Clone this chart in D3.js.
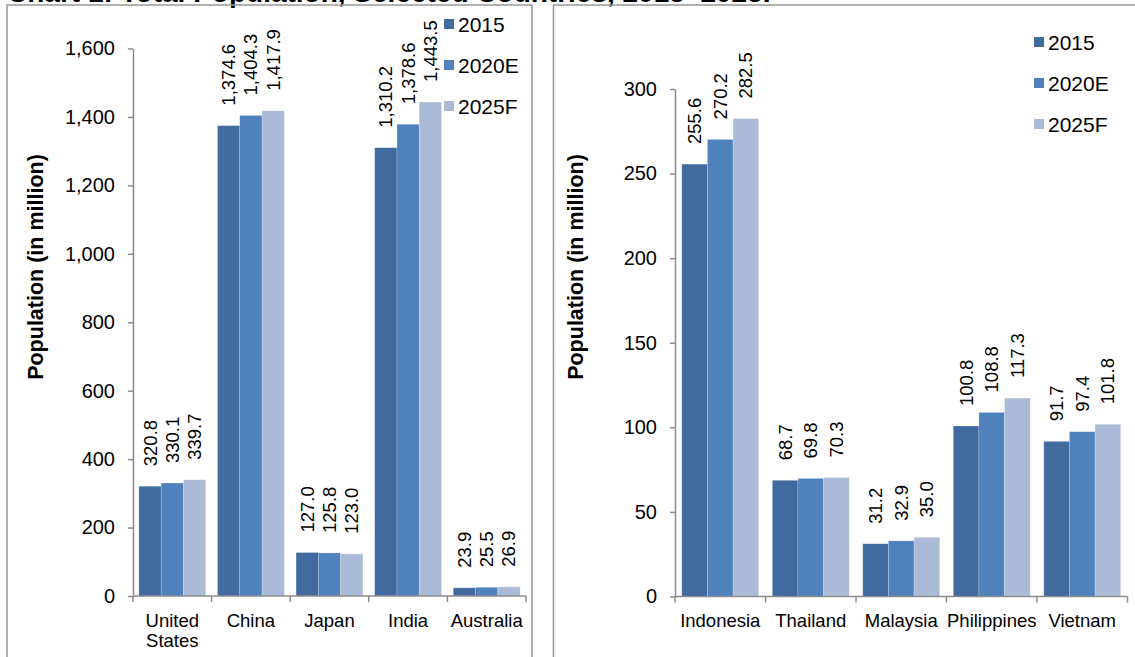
<!DOCTYPE html>
<html>
<head>
<meta charset="utf-8">
<script src="https://cdn.jsdelivr.net/npm/d3@7"></script>
<style>
  html, body { margin: 0; padding: 0; background: #ffffff; }
  svg { display: block; font-family: "Liberation Sans", Arial, sans-serif; }
</style>
</head>
<body>
<svg id="chart" width="1135" height="657"></svg>
<script>
// Series shared by both panels
const seriesNames = ["2015", "2020E", "2025F"];
const seriesColors = ["#416A9F", "#4F81BD", "#AABAD7"];

// Left panel: large economies
const leftCategories = ["United States", "China", "Japan", "India", "Australia"];
const left2015  = [320.8, 1374.6, 127.0, 1310.2, 23.9];
const left2020E = [330.1, 1404.3, 125.8, 1378.6, 25.5];
const left2025F = [339.7, 1417.9, 123.0, 1443.5, 26.9];
const leftTicks = [0, 200, 400, 600, 800, 1000, 1200, 1400, 1600];

// Right panel: Southeast Asia
const rightCategories = ["Indonesia", "Thailand", "Malaysia", "Philippines", "Vietnam"];
const right2015  = [255.6, 68.7, 31.2, 100.8, 91.7];
const right2020E = [270.2, 69.8, 32.9, 108.8, 97.4];
const right2025F = [282.5, 70.3, 35.0, 117.3, 101.8];
const rightTicks = [0, 50, 100, 150, 200, 250, 300];

const titleText = "Chart 1: Total Population, Selected Countries, 2015\u20132025F";
const yTitle = "Population (in million)";

const svg = d3.select("#chart");
const axisColor = "#8C8C8C";
const catFont = 18.5;
const tickFont = 20;
const valueFont = 18.5;
const legendFont = 21;

// Heading (runs off the top edge of the page)
svg.append("text")
  .attr("x", 7).attr("y", 2)
  .attr("font-size", 28).attr("font-weight", "bold").attr("fill", "#000")
  .text(titleText);

function drawPanel(cfg) {
  const g = svg.append("g");

  // Panel frame
  g.append("rect")
    .attr("x", cfg.frame[0]).attr("y", cfg.frame[1])
    .attr("width", cfg.frame[2]).attr("height", cfg.frame[3])
    .attr("fill", "none").attr("stroke", "#999").attr("stroke-width", 1.5);

  const y = d3.scaleLinear().domain(cfg.domain).range([cfg.y0, cfg.yTop]);
  const x = d3.scaleBand().domain(cfg.categories).range([cfg.x0, cfg.x1]).padding(0);
  const bw = x.bandwidth();
  const pad = bw * 0.075;
  const xs = d3.scaleBand().domain(seriesNames).range([pad, bw - pad]).padding(0);

  const rows = cfg.categories.map((c, i) => ({
    cat: c,
    vals: cfg.series.map((s, k) => ({ name: seriesNames[k], v: s[i], color: seriesColors[k] }))
  }));

  // Bars
  const grp = g.selectAll("g.cat").data(rows).join("g")
    .attr("class", "cat")
    .attr("transform", d => `translate(${x(d.cat)},0)`);

  grp.selectAll("rect").data(d => d.vals).join("rect")
    .attr("x", d => xs(d.name))
    .attr("y", d => y(d.v))
    .attr("width", xs.bandwidth())
    .attr("height", d => y(0) - y(d.v))
    .attr("fill", d => d.color)
    .attr("stroke", "#ffffff").attr("stroke-opacity", 0.35).attr("stroke-width", 0.6);

  // Value labels, rotated, above each bar
  grp.selectAll("text.val").data(d => d.vals).join("text")
    .attr("class", "val")
    .attr("transform", d => `translate(${xs(d.name) + xs.bandwidth() / 2},${y(d.v) - 20}) rotate(-90)`)
    .attr("dy", "0.35em")
    .attr("text-anchor", "start")
    .attr("font-size", valueFont).attr("fill", "#000")
    .text(d => d3.format(",.1f")(d.v));

  // Y axis
  const yAxis = g.append("g")
    .attr("transform", `translate(${cfg.x0},0)`)
    .call(d3.axisLeft(y).tickValues(cfg.ticks).tickFormat(d3.format(",")).tickSize(5).tickSizeOuter(0));
  yAxis.select(".domain").attr("stroke", axisColor).attr("stroke-width", 1.5);
  yAxis.selectAll(".tick line").attr("stroke", axisColor).attr("stroke-width", 1.5);
  yAxis.selectAll(".tick text")
    .attr("x", -18).attr("font-size", tickFont).attr("fill", "#000")
    .attr("font-family", "Liberation Sans, Arial, sans-serif");

  // X axis line and category separators
  g.append("line")
    .attr("x1", cfg.x0).attr("x2", cfg.x1)
    .attr("y1", y(0)).attr("y2", y(0))
    .attr("stroke", axisColor).attr("stroke-width", 1.5);
  const bounds = cfg.categories.map(c => x(c)).concat([cfg.x1]);
  g.selectAll("line.sep").data(bounds).join("line")
    .attr("class", "sep")
    .attr("x1", d => d).attr("x2", d => d)
    .attr("y1", y(0)).attr("y2", y(0) + 6)
    .attr("stroke", axisColor).attr("stroke-width", 1.5);

  // Category labels (two lines for long two-word names)
  const lab = g.selectAll("text.cat").data(cfg.categories).join("text")
    .attr("class", "cat")
    .attr("text-anchor", "middle")
    .attr("font-size", catFont).attr("fill", "#000")
    .attr("x", d => x(d) + bw / 2)
    .attr("y", 627);
  lab.each(function(d) {
    const parts = (cfg.wrap.includes(d)) ? d.split(" ") : [d];
    const t = d3.select(this);
    parts.forEach((p, i) => {
      t.append("tspan").attr("x", x(d) + bw / 2).attr("dy", i === 0 ? 0 : 20).text(p);
    });
  });

  // Axis title
  g.append("text")
    .attr("transform", `translate(${cfg.titleX},267) rotate(-90)`)
    .attr("text-anchor", "middle").attr("dy", "0.35em")
    .attr("font-size", 21.5).attr("font-weight", "bold").attr("fill", "#000")
    .text(yTitle);

  // Legend
  const lg = g.selectAll("g.leg").data(seriesNames).join("g")
    .attr("class", "leg")
    .attr("transform", (d, i) => `translate(${cfg.legendX},${cfg.legendY[i]})`);
  lg.append("rect").attr("x", 0).attr("y", -5).attr("width", 10).attr("height", 10)
    .attr("fill", (d, i) => seriesColors[i]);
  lg.append("text").attr("x", 14).attr("dy", "0.36em")
    .attr("font-size", legendFont).attr("fill", "#000")
    .text(d => d);
}

drawPanel({
  frame: [7, 5, 525, 700],
  categories: leftCategories,
  series: [left2015, left2020E, left2025F],
  domain: [0, 1600], ticks: leftTicks,
  x0: 133, x1: 526, y0: 596, yTop: 48.5,
  titleX: 35,
  legendX: 444, legendY: [24, 65, 106],
  wrap: ["United States"]
});

drawPanel({
  frame: [553.5, 5, 620, 700],
  categories: rightCategories,
  series: [right2015, right2020E, right2025F],
  domain: [0, 300], ticks: rightTicks,
  x0: 675, x1: 1127.5, y0: 596.5, yTop: 89,
  titleX: 575,
  legendX: 1034, legendY: [42, 83, 124],
  wrap: []
});
</script>
</body>
</html>
